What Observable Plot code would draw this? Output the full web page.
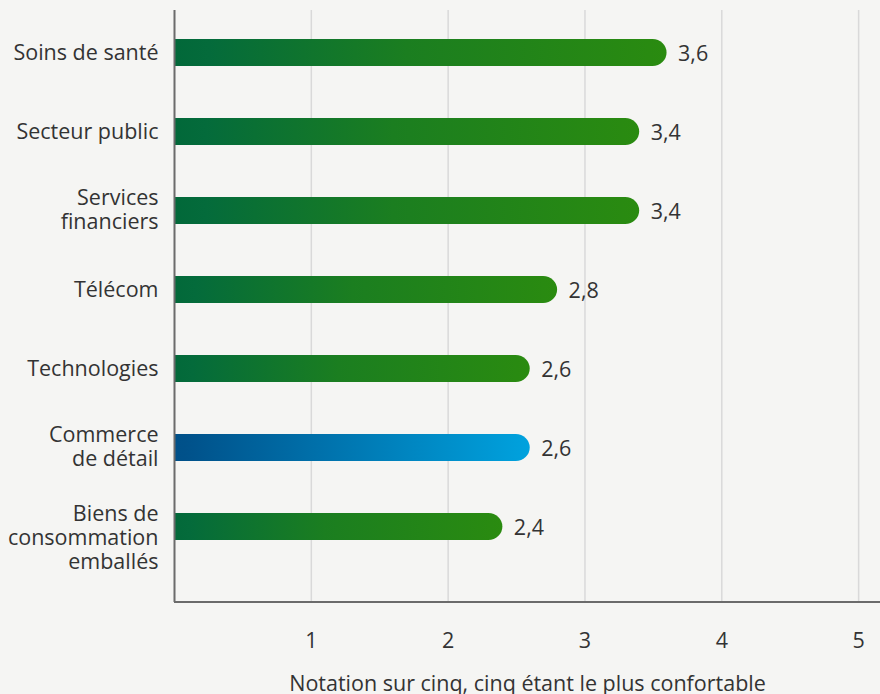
<!DOCTYPE html>
<html><head><meta charset="utf-8">
<script src="https://cdn.jsdelivr.net/npm/d3@7"></script>
<script src="https://cdn.jsdelivr.net/npm/@observablehq/plot@0.6"></script>
<style>
html,body{margin:0;padding:0;background:#f5f5f3;}
#chart svg{display:block;}
</style></head><body><div id="chart"></div>
<script>
const categories = ["Soins de santé", "Secteur public", "Services\nfinanciers", "Télécom", "Technologies", "Commerce\nde détail", "Biens de\nconsommation\nemballés"];
const values = [3.6, 3.4, 3.4, 2.8, 2.6, 2.6, 2.4];
const groups = ["green", "green", "green", "green", "green", "blue", "green"];
const xTicks = [1, 2, 3, 4, 5];
const xLabel = "Notation sur cinq, cinq étant le plus confortable";

const data = categories.map((c, i) => ({category: c, value: values[i], group: groups[i]}));
const fmt = v => String(v.toFixed(1)).replace(".", ",");
const textColor = "#333333";
const fs = 21.5;

const bottomLine = (index, scales, vals, dim) => {
  const line = document.createElementNS("http://www.w3.org/2000/svg", "line");
  line.setAttribute("x1", dim.marginLeft);
  line.setAttribute("x2", dim.width - dim.marginRight);
  line.setAttribute("y1", dim.height - dim.marginBottom);
  line.setAttribute("y2", dim.height - dim.marginBottom);
  line.setAttribute("stroke", "#6b6b6b");
  line.setAttribute("stroke-width", 2);
  return line;
};

const chart = Plot.plot({
  width: 880,
  height: 694,
  marginLeft: 174,
  marginRight: 0,
  marginTop: 10,
  marginBottom: 92,
  style: {background: "#f5f5f3", fontFamily: "'Open Sans', sans-serif", fontSize: fs + "px", color: textColor},
  x: {domain: [0, 5.16], ticks: xTicks, tickSize: 0, tickPadding: 30, label: null, tickFormat: d => String(d)},
  y: {axis: null, domain: categories, range: [10, 569], padding: 0},
  marks: [
    Plot.ruleX(xTicks, {stroke: "#d9d9d9", strokeWidth: 1.5}),
    Plot.barX(data, {
      y: "category", x1: -0.2, x2: "value",
      insetTop: 26, insetBottom: 26, rx: 14,
      fill: d => d.group === "blue" ? "url(#gradBlue)" : "url(#gradGreen)",
      clip: true
    }),
    Plot.ruleX([0], {stroke: "#6b6b6b", strokeWidth: 2}),
    bottomLine,
    Plot.text(data, {
      y: "category", x: "value", text: d => fmt(d.value),
      dx: 11, dy: 1, textAnchor: "start", fill: textColor, fontSize: fs
    }),
    Plot.text(data.filter(d => !d.category.includes("\n")), {
      y: "category", x: 0, text: "category",
      dx: -16, textAnchor: "end", lineAnchor: "middle", fill: textColor, fontSize: fs
    }),
    Plot.text(data.filter(d => d.category.includes("\n")), {
      y: "category", x: 0, text: "category",
      dx: -16, dy: -23, textAnchor: "end", lineAnchor: "top", lineHeight: 1.12, fill: textColor, fontSize: fs
    }),
    Plot.text([xLabel], {frameAnchor: "bottom", text: d => d, dy: 82, lineAnchor: "middle", fill: textColor, fontSize: fs})
  ]
});

d3.select(chart).insert("defs", ":first-child").html(`
  <linearGradient id="gradGreen" x1="0" x2="1" y1="0" y2="0">
    <stop offset="0" stop-color="#006638"/>
    <stop offset="0.12" stop-color="#046b3b"/>
    <stop offset="0.5" stop-color="#1b7e20"/>
    <stop offset="1" stop-color="#2a8b10"/>
  </linearGradient>
  <linearGradient id="gradBlue" x1="0" x2="1" y1="0" y2="0">
    <stop offset="0" stop-color="#004f86"/>
    <stop offset="0.1" stop-color="#00518a"/>
    <stop offset="1" stop-color="#00a2de"/>
  </linearGradient>`);

document.getElementById("chart").appendChild(chart);
</script>
</body></html>
